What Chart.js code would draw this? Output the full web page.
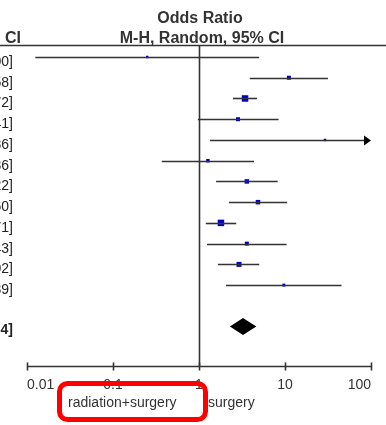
<!DOCTYPE html>
<html>
<head>
<meta charset="utf-8">
<script src="https://cdn.jsdelivr.net/npm/chart.js@4.4.1/dist/chart.umd.min.js"></script>
<style>
  html, body { margin: 0; padding: 0; background: #fff; }
  #wrap { position: relative; width: 386px; height: 425px; }
</style>
</head>
<body>
<div id="wrap"><canvas id="forest" width="386" height="425"></canvas></div>
<script>
// dados (odds ratio e IC 95%)
const oddsRatio = [0.25, 11.10, 3.43, 2.84, 29.20, 1.27, 3.60, 4.85, 1.80, 3.60, 2.92, 9.70];
const ciLow     = [0.0125, 3.90, 2.48, 0.97, 1.34, 0.37, 1.58, 2.23, 1.20, 1.24, 1.66, 2.06];
const ciHigh    = [5.00, 31.58, 4.72, 8.41, 636.36, 4.36, 8.22, 10.60, 2.71, 10.43, 5.02, 45.39];
const weights   = [2.5, 4, 6.5, 4, 2.5, 3.5, 4.5, 4.5, 6.5, 4, 5, 3];
const totalOR = 3.25, totalLow = 2.29, totalHigh = 4.64;
const totalRow = 13;
const xTicks = [0.01, 0.1, 1, 10, 100];
const xTickLabels = ['0.01', '0.1', '1', '10', '100'];
const favoursLeft = 'radiation+surgery';
const favoursRight = 'surgery';

const FONT = '"Liberation Sans", Arial, sans-serif';
const fmt = v => v.toFixed(2);

// pontos dos estudos
const studyPoints = oddsRatio.map((v, i) => ({ x: v, y: i }));

// plugin que desenha o resto do forest plot
const forestPlugin = {
    id: 'forest',
    afterDatasetsDraw(chart) {
        const { ctx, chartArea, scales } = chart;
        const xs = scales.x, ys = scales.y;
        const px = v => xs.getPixelForValue(Math.min(Math.max(v, xTicks[0]), xTicks[xTicks.length - 1]));

        ctx.save();
        // cabeçalho
        ctx.fillStyle = '#333';
        ctx.font = 'bold 16px ' + FONT;
        ctx.textAlign = 'center';
        ctx.textBaseline = 'middle';
        ctx.fillText('Odds Ratio', 200, 19);
        ctx.fillText('M-H, Random, 95% CI', 202, 39);
        ctx.textAlign = 'right';
        ctx.fillText('95% CI', 21, 39);

        ctx.strokeStyle = '#333';
        ctx.lineWidth = 1.6;
        ctx.beginPath();
        ctx.moveTo(0, 45.5);
        ctx.lineTo(386, 45.5);
        ctx.stroke();

        // linha vertical em OR = 1
        const x1 = Math.round(px(1)) + 0.5;
        ctx.beginPath();
        ctx.moveTo(x1, chartArea.top);
        ctx.lineTo(x1, chartArea.bottom);
        ctx.stroke();

        // rótulos da esquerda (cortados na borda)
        ctx.font = '14px ' + FONT;
        ctx.fillStyle = '#222';
        oddsRatio.forEach((v, i) => {
            const y = ys.getPixelForValue(i) + 5;
            ctx.fillText(fmt(v) + ' [' + fmt(ciLow[i]) + ', ' + fmt(ciHigh[i]) + ']', 13, y);
        });
        ctx.font = 'bold 14px ' + FONT;
        ctx.fillText(fmt(totalOR) + ' [' + fmt(totalLow) + ', ' + fmt(totalHigh) + ']', 13, ys.getPixelForValue(totalRow) + 4);

        // intervalos de confiança
        ctx.strokeStyle = '#333';
        ctx.lineWidth = 1.6;
        ciLow.forEach((lo, i) => {
            const y = Math.round(ys.getPixelForValue(i)) + 0.5;
            const xa = px(lo), xb = px(ciHigh[i]);
            ctx.beginPath();
            ctx.moveTo(xa, y);
            ctx.lineTo(ciHigh[i] > xTicks[4] ? xb - 5 : xb, y);
            ctx.stroke();
            if (ciHigh[i] > xTicks[4]) {
                ctx.fillStyle = '#000';
                ctx.beginPath();
                ctx.moveTo(xb, y);
                ctx.lineTo(xb - 7, y - 5);
                ctx.lineTo(xb - 7, y + 5);
                ctx.closePath();
                ctx.fill();
            }
        });

        // diamante do total
        const yd = ys.getPixelForValue(totalRow);
        ctx.fillStyle = '#000';
        ctx.beginPath();
        ctx.moveTo(px(totalLow), yd);
        ctx.lineTo(px(totalOR), yd - 8.5);
        ctx.lineTo(px(totalHigh), yd);
        ctx.lineTo(px(totalOR), yd + 8.5);
        ctx.closePath();
        ctx.fill();

        // eixo x
        const ya = Math.round(chartArea.bottom) + 0.5;
        ctx.strokeStyle = '#333';
        ctx.beginPath();
        ctx.moveTo(px(xTicks[0]), ya);
        ctx.lineTo(px(xTicks[4]), ya);
        xTicks.forEach(t => {
            const tx = Math.round(px(t)) + 0.5;
            ctx.moveTo(tx, ya - 4);
            ctx.lineTo(tx, ya + 4);
        });
        ctx.stroke();

        ctx.font = '14px ' + FONT;
        ctx.fillStyle = '#333';
        xTicks.forEach((t, i) => {
            ctx.textAlign = i === 0 ? 'left' : (i === xTicks.length - 1 ? 'right' : 'center');
            ctx.fillText(xTickLabels[i], px(t), 385);
        });
        ctx.textAlign = 'left';
        ctx.fillText(favoursLeft, 68, 403);
        ctx.fillText(favoursRight, 208, 403);

        // destaque vermelho
        ctx.strokeStyle = '#ff0000';
        ctx.lineWidth = 5;
        ctx.beginPath();
        ctx.roundRect(59.5, 383.5, 146, 36, 8);
        ctx.stroke();
        ctx.restore();
    }
};

new Chart(document.getElementById('forest').getContext('2d'), {
    type: 'scatter',
    data: {
        datasets: [{
            data: studyPoints,
            pointStyle: 'rect',
            pointRadius: weights.map(w => w / Math.SQRT2),
            backgroundColor: '#0000cc',
            borderWidth: 0
        }]
    },
    options: {
        responsive: false,
        animation: false,
        layout: { padding: { left: 27, right: 15, top: 46, bottom: 59 } },
        plugins: { legend: { display: false }, tooltip: { enabled: false } },
        scales: {
            x: { type: 'logarithmic', min: xTicks[0], max: xTicks[4], display: false },
            y: { type: 'linear', reverse: true, min: -0.53, max: 14.9, display: false }
        }
    },
    plugins: [forestPlugin]
});
</script>
</body>
</html>
